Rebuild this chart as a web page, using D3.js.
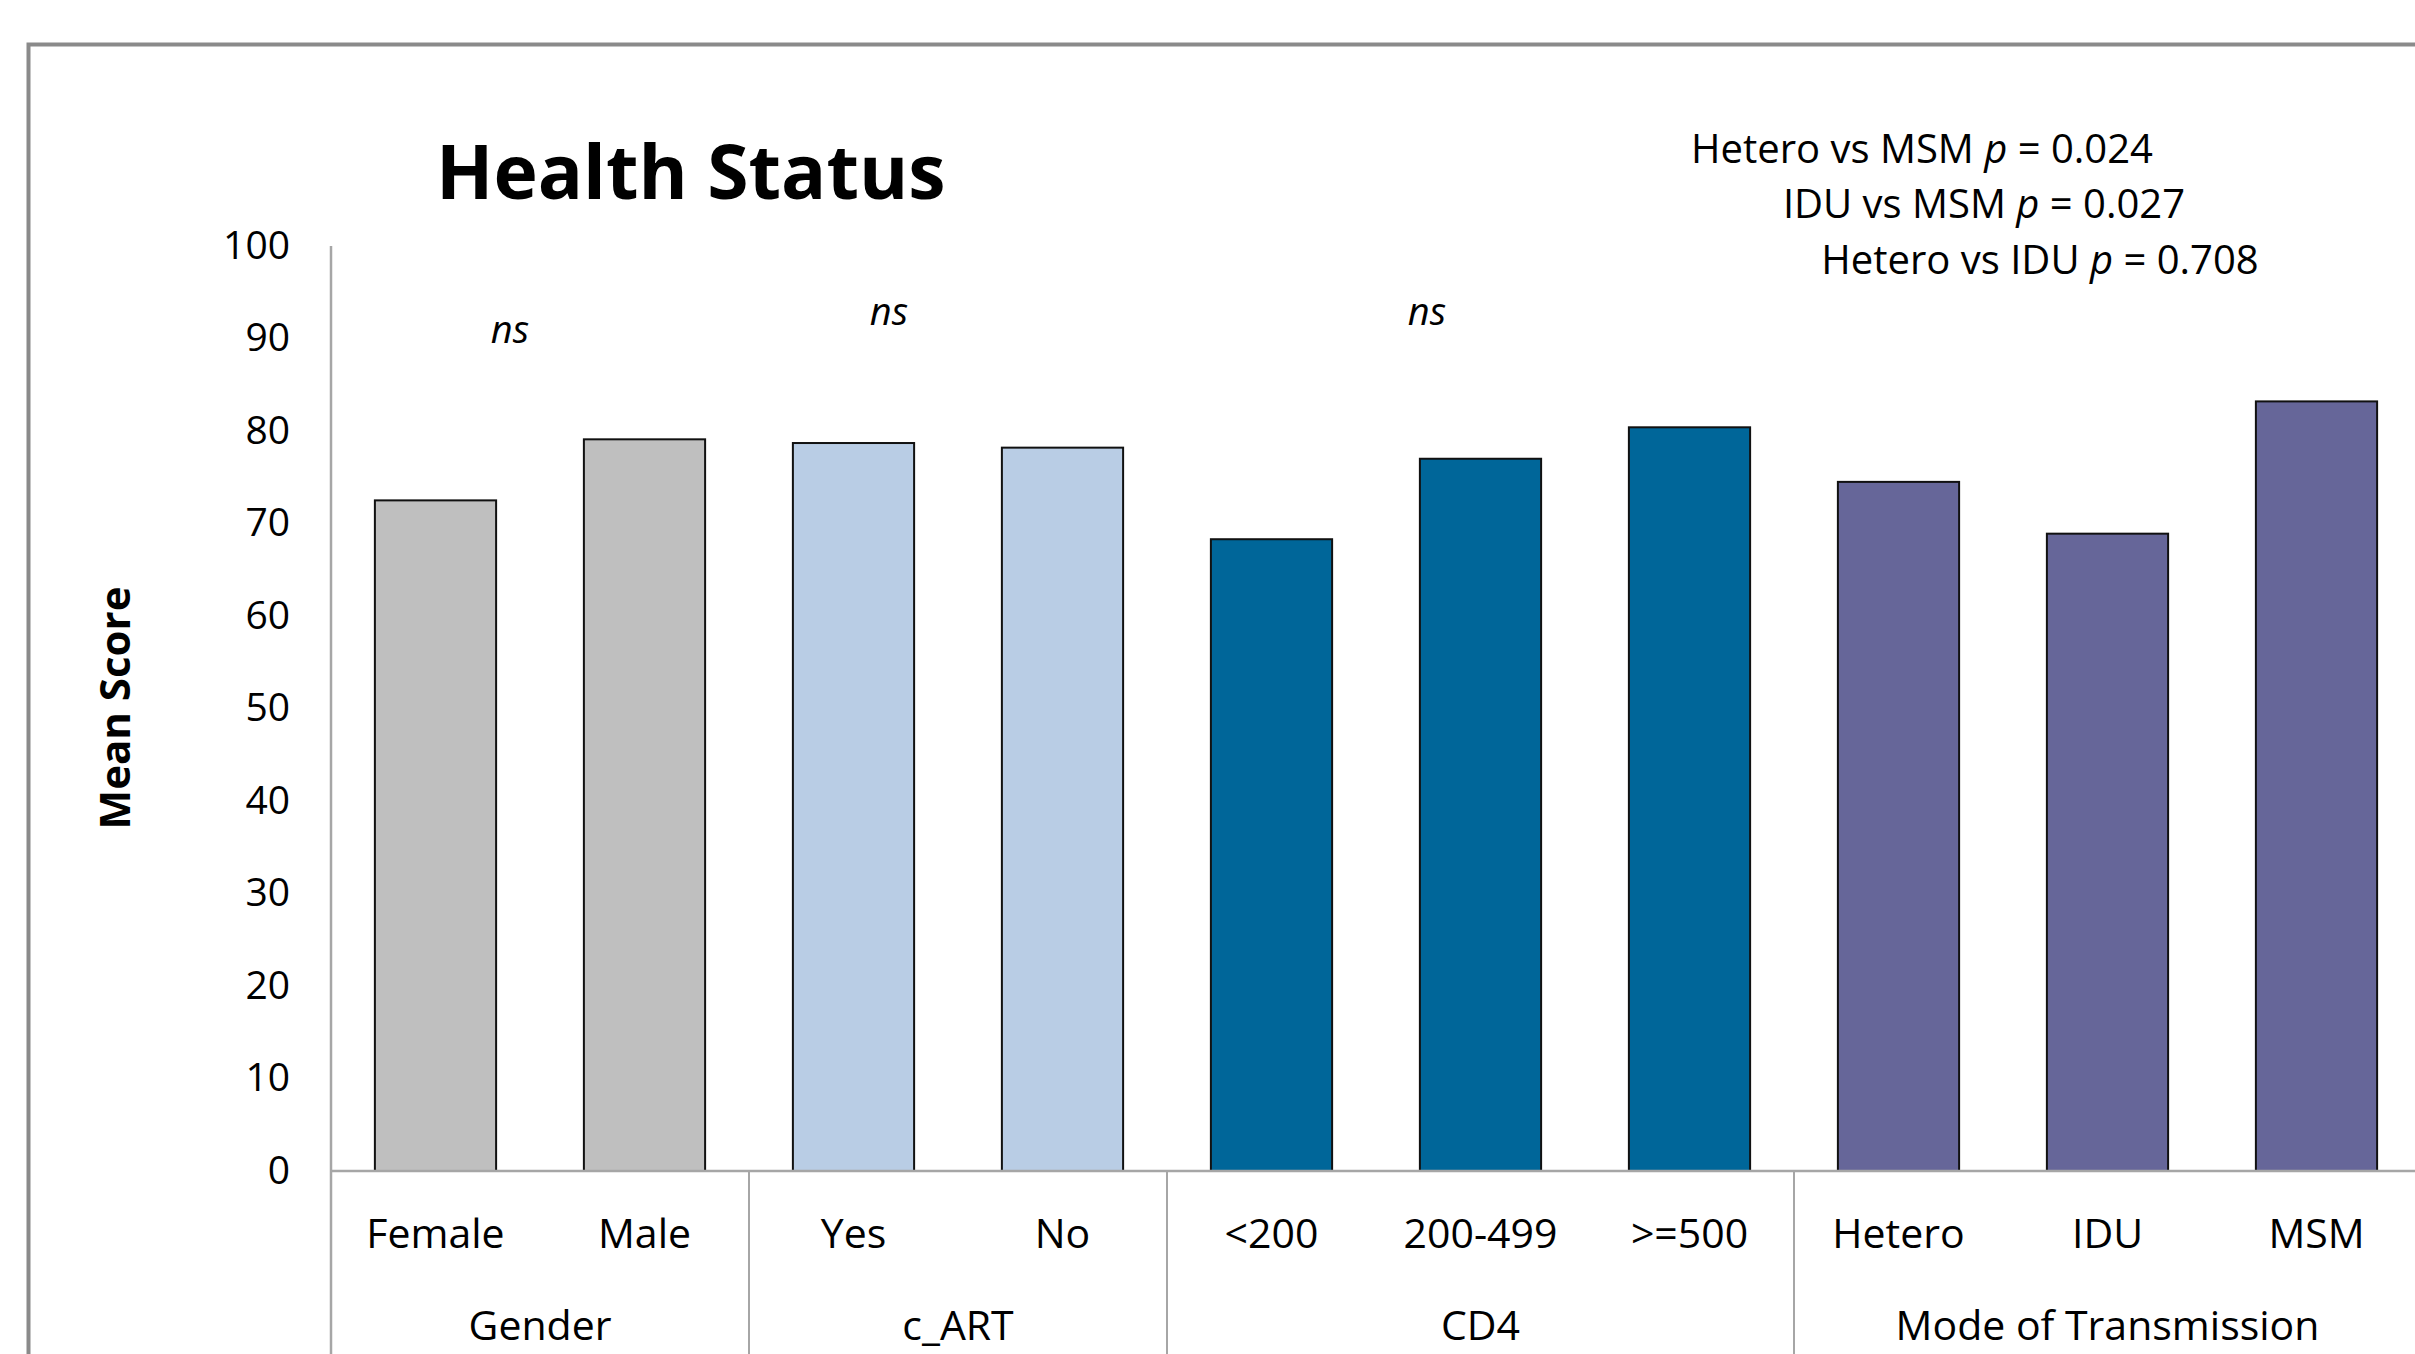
<!DOCTYPE html>
<html>
<head>
<meta charset="utf-8">
<script src="https://cdn.jsdelivr.net/npm/d3@7"></script>
<style>
  body { margin: 0; background: #fff; }
  svg { display: block; font-family: "Open Sans", "Noto Sans", sans-serif; }
</style>
</head>
<body>
<svg id="chart" width="2415" height="1354"></svg>
<script>
// chart data
var categories = ["Female", "Male", "Yes", "No", "<200", "200-499", ">=500", "Hetero", "IDU", "MSM"];
var meanScores = [72.5, 79.1, 78.7, 78.2, 68.3, 77.0, 80.4, 74.5, 68.9, 83.2];
var groups = ["Gender", "c_ART", "CD4", "Mode of Transmission"];
var groupSizes = [2, 2, 3, 3];
var groupColors = ["#BFBFBF", "#B9CDE5", "#006699", "#666699"];
var yTicks = [0, 10, 20, 30, 40, 50, 60, 70, 80, 90, 100];
var pLabels = [["Hetero vs MSM", "0.024"], ["IDU vs MSM", "0.027"], ["Hetero vs IDU", "0.708"]];

var W = 2415, H = 1354;
var svg = d3.select("#chart");

// which group each category belongs to
var catGroup = [];
groupSizes.forEach(function(n, g) { for (var i = 0; i < n; i++) catGroup.push(g); });

var xScale = d3.scaleBand()
    .domain(categories)
    .range([331, 2421])
    .paddingInner(0.42)
    .paddingOuter(0.21);

var yScale = d3.scaleLinear()
    .domain([0, 100])
    .range([1171, 246]);

// outer frame
svg.append("rect")
    .attr("x", 28.5).attr("y", 44.5)
    .attr("width", W).attr("height", H)
    .attr("fill", "none")
    .attr("stroke", "#8a8a8a")
    .attr("stroke-width", 4);

// title
svg.append("text")
    .attr("x", 436).attr("y", 199)
    .attr("font-size", 75).attr("font-weight", "bold")
    .text("Health Status");

// y axis
var yAxis = svg.append("g")
    .attr("transform", "translate(" + xScale.range()[0] + ",0)")
    .call(d3.axisLeft(yScale).tickValues(yTicks).tickSize(0).tickPadding(41));
yAxis.select(".domain").remove();
yAxis.selectAll("text")
    .attr("font-family", "'Open Sans', sans-serif")
    .attr("font-size", 39)
    .attr("fill", "#000");

svg.append("text")
    .attr("transform", "translate(130,708) rotate(-90)")
    .attr("text-anchor", "middle")
    .attr("font-size", 42).attr("font-weight", "bold")
    .text("Mean Score");

// bars
svg.append("g").selectAll("rect")
    .data(categories)
    .enter()
    .append("rect")
    .attr("x", function(d) { return xScale(d); })
    .attr("y", function(d, i) { return yScale(meanScores[i]); })
    .attr("width", xScale.bandwidth())
    .attr("height", function(d, i) { return yScale(0) - yScale(meanScores[i]); })
    .attr("fill", function(d, i) { return groupColors[catGroup[i]]; })
    .attr("stroke", "#111")
    .attr("stroke-width", 2);

// axis lines
svg.append("line")
    .attr("x1", xScale.range()[0]).attr("x2", W)
    .attr("y1", yScale(0)).attr("y2", yScale(0))
    .attr("stroke", "#a6a6a6").attr("stroke-width", 2.5);
svg.append("line")
    .attr("x1", xScale.range()[0]).attr("x2", xScale.range()[0])
    .attr("y1", yScale(100)).attr("y2", H)
    .attr("stroke", "#a6a6a6").attr("stroke-width", 2.5);

// group separators below the axis
var start = 0;
var groupMids = [];
groupSizes.forEach(function(n, g) {
  var x0 = xScale.range()[0] + start * xScale.step();
  var x1 = x0 + n * xScale.step();
  groupMids.push((x0 + x1) / 2);
  if (g > 0) {
    svg.append("line")
        .attr("x1", x0).attr("x2", x0)
        .attr("y1", yScale(0)).attr("y2", H)
        .attr("stroke", "#a6a6a6").attr("stroke-width", 2);
  }
  start += n;
});

// category labels
svg.append("g").selectAll("text")
    .data(categories)
    .enter()
    .append("text")
    .attr("x", function(d) { return xScale(d) + xScale.bandwidth() / 2; })
    .attr("y", 1248)
    .attr("text-anchor", "middle")
    .attr("font-size", 41)
    .text(function(d) { return d; });

svg.append("g").selectAll("text")
    .data(groups)
    .enter()
    .append("text")
    .attr("x", function(d, i) { return groupMids[i]; })
    .attr("y", 1340)
    .attr("text-anchor", "middle")
    .attr("font-size", 41)
    .text(function(d) { return d; });

// ns annotations
var nsPos = [[510, 343], [889, 325], [1427, 325]];
nsPos.forEach(function(p) {
  svg.append("text")
      .attr("x", p[0]).attr("y", p[1])
      .attr("text-anchor", "middle")
      .attr("font-size", 38).attr("font-style", "italic")
      .text("ns");
});

// p-value notes
var pPos = [[1922, 163], [1984, 218], [2040, 274]];
pLabels.forEach(function(l, i) {
  var t = svg.append("text")
      .attr("x", pPos[i][0]).attr("y", pPos[i][1])
      .attr("text-anchor", "middle")
      .attr("font-size", 40);
  t.append("tspan").text(l[0] + " ");
  t.append("tspan").attr("font-style", "italic").text("p");
  t.append("tspan").text(" = " + l[1]);
});
</script>
</body>
</html>
